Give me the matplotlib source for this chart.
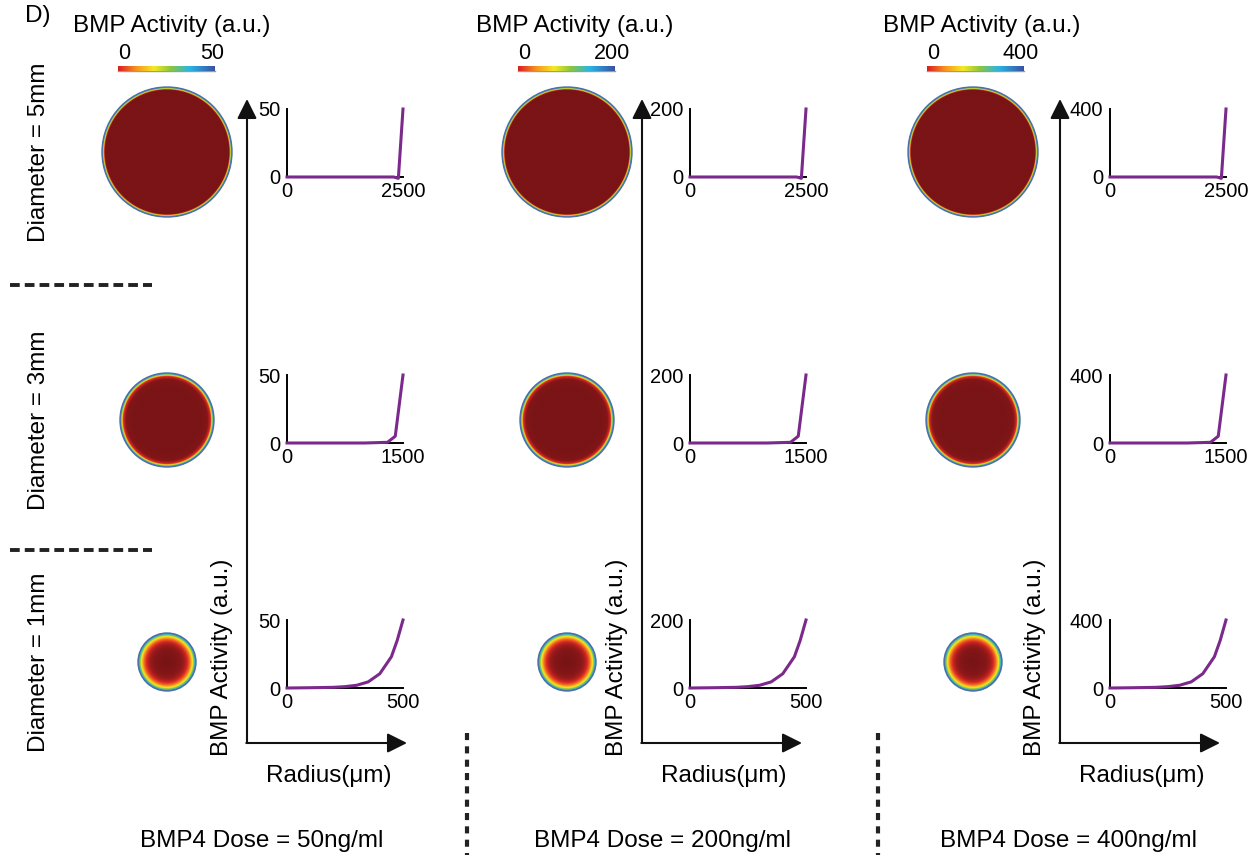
import numpy as np
import matplotlib
matplotlib.use('Agg')
import matplotlib.pyplot as plt
from matplotlib.colors import LinearSegmentedColormap
from matplotlib.patches import Circle

plt.rcParams['font.family'] = ['Liberation Sans', 'DejaVu Sans']

W, H = 1260, 855

# 数据
doses = [50, 200, 400]              # BMP4 剂量 ng/ml，同时是每列活性上限
diameters = [5, 3, 1]               # mm
radius_max = [2500, 1500, 500]      # μm

# 径向活性分布（占上限的比例），从小图读取
r_5mm = [0, 1000, 2000, 2300, 2400, 2500]
f_5mm = [0, 0, 0, 0, -0.02, 1.0]
r_3mm = [0, 500, 1000, 1300, 1400, 1500]
f_3mm = [0, 0, 0, 0.01, 0.1, 1.0]
r_1mm = [0, 100, 200, 250, 300, 350, 400, 450, 475, 500]
f_1mm = [0, 0.004, 0.01, 0.02, 0.04, 0.09, 0.21, 0.46, 0.7, 1.0]
profiles = [(r_5mm, f_5mm), (r_3mm, f_3mm), (r_1mm, f_1mm)]

# 颜色
cmap = LinearSegmentedColormap.from_list('bmp', [
    (0.0, '#7a1416'), (0.1, '#de2a25'), (0.25, '#f7931e'), (0.42, '#f4e922'),
    (0.58, '#8cc63e'), (0.76, '#2bb5e6'), (1.0, '#3a52a2')])
purple = '#7b2a8b'

# 布局（像素）
row_y = [152, 420, 662]             # 每行圆盘中心 y
disk_rad = [65, 47, 29]
disk_x = [167, 567, 973]
plot_x = [287, 690, 1110]
plot_top = [109, 375, 620]
arrow_x = [247, 642, 1060]
title_x = [172, 575, 982]
cbar_x = [118, 518, 927]

fig = plt.figure(figsize=(W / 100, H / 100), dpi=100)


def px_axes(x0, y0, w, h):
    return fig.add_axes([x0 / W, 1 - (y0 + h) / H, w / W, h / H])


bg = px_axes(0, 0, W, H)
bg.set_xlim(0, W)
bg.set_ylim(H, 0)
bg.axis('off')

bg.text(38, 16, 'D)', fontsize=17.5, ha='center', va='center')

# 左侧行标签和分隔虚线
for i, d in enumerate(diameters):
    bg.text(39, row_y[i], f'Diameter = {d}mm', rotation=90, fontsize=17.5,
            ha='center', va='center')
for y in [285, 550]:
    bg.plot([10, 152], [y, y], color='#222222', lw=2.8, ls=(0, (2.5, 1.3)))

for x in [467, 878]:
    bg.plot([x, x], [733, 855], color='#222222', lw=3, ls=(0, (1.7, 1.5)))

for c, dose in enumerate(doses):
    # 色标
    bg.text(title_x[c], 32, 'BMP Activity (a.u.)', fontsize=17.5, ha='center', va='baseline')
    cx0 = cbar_x[c]
    bg.text(cx0 + 6, 59, '0', fontsize=15.5, ha='center', va='baseline')
    bg.text(cx0 + 94, 59, str(dose), fontsize=15.5, ha='center', va='baseline')
    cax = px_axes(cx0, 66, 97, 5)
    cax.imshow(np.linspace(0.08, 1, 256)[None, :], aspect='auto', cmap=cmap, vmin=0, vmax=1)
    cax.axis('off')
    bg.plot([cx0, cx0 + 97], [71.5, 71.5], color='#9a9a9a', lw=1)

    # 大坐标箭头
    ax0 = arrow_x[c]
    arrow_style = dict(arrowstyle='-|>,head_length=0.6,head_width=0.3', color='#111111',
                       lw=1.5, mutation_scale=20, shrinkA=0, shrinkB=0)
    bg.annotate('', xy=(ax0, 99), xytext=(ax0, 743), arrowprops=arrow_style)
    bg.annotate('', xy=(ax0 + 160, 743), xytext=(ax0 - 0.7, 743), arrowprops=arrow_style)
    bg.text(ax0 - 25, 657, 'BMP Activity (a.u.)', rotation=90, fontsize=17.5,
            ha='center', va='center')
    bg.text(ax0 + 82, 782, 'Radius(μm)', fontsize=17.5, ha='center', va='baseline')
    bg.text(disk_x[c] + 95, 847, f'BMP4 Dose = {dose}ng/ml', fontsize=17.5,
            ha='center', va='baseline')

    for i, (r, f) in enumerate(profiles):
        rmax = radius_max[i]
        # 圆盘热图
        rad = disk_rad[i]
        dax = px_axes(disk_x[c] - rad - 3, row_y[i] - rad - 3, 2 * rad + 6, 2 * rad + 6)
        g = np.linspace(-rmax, rmax, 500)
        xx, yy = np.meshgrid(g, g)
        rr = np.hypot(xx, yy)
        val = np.clip(np.interp(rr, r, f), 0, 1)
        val = np.ma.masked_where(rr > rmax, val)
        dax.imshow(val, cmap=cmap, vmin=0, vmax=1, extent=[-rmax, rmax, -rmax, rmax],
                   interpolation='antialiased')
        dax.add_patch(Circle((0, 0), rmax, fill=False, ec='#4d6fa8', lw=1))
        pad = rmax * 3 / rad
        dax.set_xlim(-rmax - pad, rmax + pad)
        dax.set_ylim(-rmax - pad, rmax + pad)
        dax.axis('off')

        # 小折线图
        pax = px_axes(plot_x[c], plot_top[i], 116, 68)
        pax.plot(r, np.array(f) * dose, color=purple, lw=2.2, clip_on=False, zorder=3)
        pax.set_xlim(0, rmax)
        pax.set_ylim(0, dose)
        pax.spines['top'].set_visible(False)
        pax.spines['right'].set_visible(False)
        pax.spines['left'].set_linewidth(1.4)
        pax.spines['bottom'].set_linewidth(1.4)
        pax.set_xticks([0, rmax])
        pax.set_yticks([0, dose])
        pax.tick_params(length=0, labelsize=14.5)
        pax.tick_params(axis='x', pad=3.5)
        pax.tick_params(axis='y', pad=5)
        pax.patch.set_alpha(0)

fig.savefig('out.png', dpi=100)
